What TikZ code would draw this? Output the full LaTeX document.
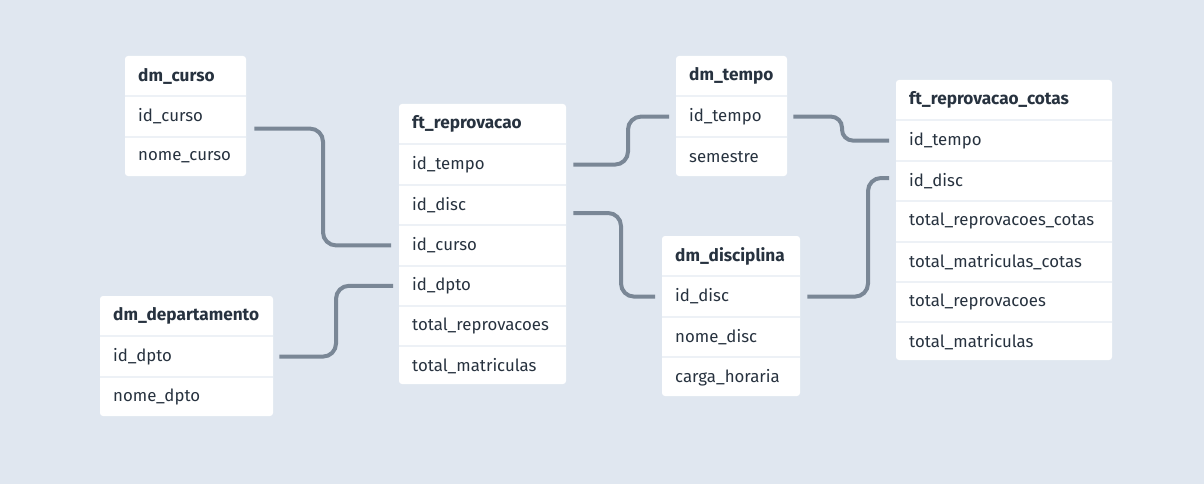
\documentclass[tikz,border=0pt]{standalone}
\usepackage{fontspec}
\setmainfont{Fira Sans}
\usetikzlibrary{positioning}
\definecolor{paper}{HTML}{E0E7F0}
\definecolor{relgray}{HTML}{7A8796}
\definecolor{inkdark}{HTML}{27323F}
\definecolor{rowsep}{HTML}{EDF1F6}
\tikzset{tablebg/.style = {fill = white, rounded corners = 3pt},
    tblrow/.style = {inner xsep = 13pt, inner ysep = 0pt,
        minimum height = 40pt, align = left, text = inkdark,
        font = \fontsize{16.8}{19}\selectfont
    },
    tblhead/.style = {tblrow, anchor = north west,
        font = \fontsize{17.2}{19}\selectfont\bfseries
    },
    rowsep line/.style = {draw = rowsep, line width = 2pt}
}
\newcommand\dbtable[6]{%
    \fill[tablebg] #2 rectangle ++(#3, {40*(#4+1)});
    \pgfmathsetlengthmacro\tblwd{#3 - 26}
    \node (#1-0) [tblhead, text width = \tblwd] at #2 {#5};
    \foreach \fieldname [count = \i] in {#6} {
        \pgfmathtruncatemacro\prev{\i - 1}
        \node (#1-\i) [tblrow, text width = \tblwd, below = 0pt of #1-\prev] {\fieldname};
        \draw[rowsep line] (#1-\i.north west) -- (#1-\i.north east);
    }
}

\begin{document}
\begin{tikzpicture}[x = 1pt, y = -1pt]

    \tikzset{relline/.style = {draw = relgray, line width = 4pt, rounded corners = 13pt}}

    \fill[paper] (0,0) rectangle (1204,484);
    \useasboundingbox (0,0) rectangle (1204,484);

    \dbtable{curso}{(125,56)}{121}{2}{dm\_curso}{id\_curso, nome\_curso}
    \dbtable{ft}{(399,104)}{167}{6}{ft\_reprovacao}{id\_tempo, id\_disc, id\_curso, id\_dpto, total\_reprovacoes, total\_matriculas}
    \dbtable{dpto}{(100,296)}{173}{2}{dm\_departamento}{id\_dpto, nome\_dpto}
    \dbtable{tempo}{(676,56)}{111}{2}{dm\_tempo}{id\_tempo, semestre}
    \dbtable{disc}{(662,236)}{138}{3}{dm\_disciplina}{id\_disc, nome\_disc, carga\_horaria}
    \dbtable{cotas}{(896,80)}{216}{6}{ft\_reprovacao\_cotas}{id\_tempo, id\_disc, total\_reprovacoes\_cotas, total\_matriculas\_cotas, total\_reprovacoes, total\_matriculas}

    % relationships
    \coordinate (discend) at ([shift = {(-7,-3)}]cotas-2.west);

    \draw[relline] ([shift = {(8,12)}]curso-1.east) -| (ft-3 -| 323,0) -- ([xshift = -8pt]ft-3.west);
    \draw[relline] ([xshift = 6pt]dpto-1.east) -| (ft-4 -| 336,0) -- ([xshift = -6pt]ft-4.west);
    \draw[relline] ([xshift = 7pt]ft-1.east) -| (tempo-1 -| 628,0) -- ([xshift = -7pt]tempo-1.west);
    \draw[relline, rounded corners = 11pt] ([xshift = 6pt]tempo-1.east) -| (cotas-1 -| 842,0) -- ([xshift = -7pt]cotas-1.west);
    \draw[relline] ([shift = {(7,8)}]ft-2.east) -| (disc-1 -| 621,0) -- ([xshift = -7pt]disc-1.west);
    \draw[relline] ([xshift = 7pt]disc-1.east) -| (discend -| 868,0) -- (discend);

\end{tikzpicture}
\end{document}
